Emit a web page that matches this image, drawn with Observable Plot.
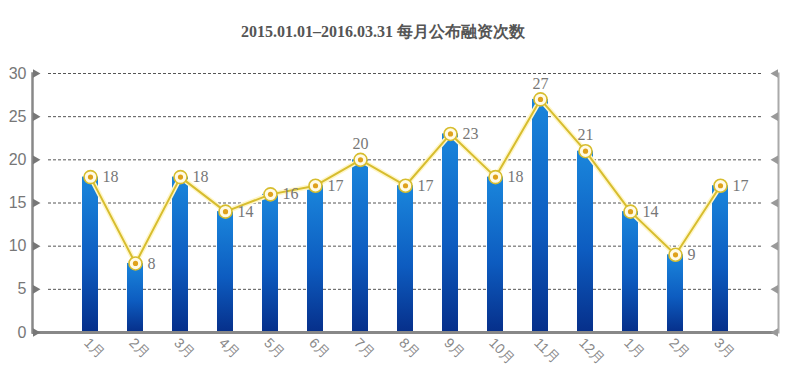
<!DOCTYPE html>
<html><head><meta charset="utf-8">
<script src="https://cdn.jsdelivr.net/npm/d3@7"></script>
<script src="https://cdn.jsdelivr.net/npm/@observablehq/plot@0.6"></script>
<style>
body{margin:0;background:#fff;}
#title{height:50px;line-height:64px;text-align:center;padding-right:34px;font-family:"Liberation Serif","DejaVu Serif",serif;font-weight:bold;font-size:16px;color:#555;}
</style>
</head><body>
<div id="title">2015.01.01–2016.03.31 每月公布融资次数</div>
<div id="chart"></div>
<script>
const months = ["1月","2月","3月","4月","5月","6月","7月","8月","9月","10月","11月","12月","1月","2月","3月"];
const counts = [18,8,18,14,16,17,20,17,23,18,27,21,14,9,17];
const yTicks = [0,5,10,15,20,25,30];
const aboveIdx = [6,10,11];

const data = months.map((m,i)=>({i, m, v: counts[i], above: aboveIdx.includes(i)}));
const gold = "#d7bd2e";

const chart = Plot.plot({
  width: 800, height: 327,
  marginLeft: 32, marginRight: 22, marginTop: 23, marginBottom: 45,
  x: {type:"band", domain: data.map(d=>d.i), paddingInner: 0.65, paddingOuter: 1.035, align: 0.5, label: null},
  y: {domain:[0,30], label: null},
  marks: [
    Plot.ruleY(yTicks.filter(t=>t>0), {stroke:"#555", strokeDasharray:"3,2", strokeWidth:1, insetLeft:16, insetRight:16}),
    Plot.barY(data, {x:"i", y:"v", fill:"url(#barGrad)"}),
    Plot.line(data, {x:"i", y:"v", stroke:"#fff6c8", strokeWidth:5}),
    Plot.line(data, {x:"i", y:"v", stroke:gold, strokeWidth:2}),
    Plot.dot(data, {x:"i", y:"v", r:6.5, fill:"#fffbe6", stroke:gold, strokeWidth:1.6}),
    Plot.dot(data, {x:"i", y:"v", r:2.6, fill:"#dfa21c"}),
    Plot.text(data.filter(d=>!d.above), {x:"i", y:"v", text:"v", dx:12, textAnchor:"start", fill:"#777", fontSize:16, fontFamily:"Liberation Serif, DejaVu Serif, serif"}),
    Plot.text(data.filter(d=>d.above), {x:"i", y:"v", text:"v", dy:-16, fill:"#777", fontSize:16, fontFamily:"Liberation Serif, DejaVu Serif, serif"}),
    Plot.frame({anchor:"left", stroke:"#888", strokeWidth:2.5}),
    Plot.frame({anchor:"right", stroke:"#aaa", strokeWidth:2}),
    Plot.ruleY([0], {stroke:"#888", strokeWidth:3}),
    Plot.dot(yTicks, {y: d=>d, frameAnchor:"left", symbol:"triangle", rotate:90, r:3.2, fill:"#777", dx:3}),
    Plot.dot(yTicks, {y: d=>d, frameAnchor:"right", symbol:"triangle", rotate:-90, r:3.2, fill:"#999", dx:-3}),
    Plot.axisY(yTicks, {tickSize:0, tickPadding:6, fontSize:16, fill:"#777", label:null, fontFamily:"Liberation Sans, Arial, sans-serif"}),
    Plot.axisX({tickSize:0, tickRotate:45, tickPadding:8, dx:-4, fontSize:14, fill:"#888", label:null, tickFormat: i=>months[i], fontFamily:"Liberation Sans, Arial, sans-serif"})
  ]
});
const svg = d3.select(chart);
const defs = svg.insert("defs", ":first-child");
const g = defs.append("linearGradient").attr("id","barGrad").attr("x1",0).attr("y1",0).attr("x2",0).attr("y2",1);
g.append("stop").attr("offset","0%").attr("stop-color","#1a86dc");
g.append("stop").attr("offset","55%").attr("stop-color","#0d5cc0");
g.append("stop").attr("offset","100%").attr("stop-color","#062f8a");
document.getElementById("chart").appendChild(chart);
</script>
</body></html>
